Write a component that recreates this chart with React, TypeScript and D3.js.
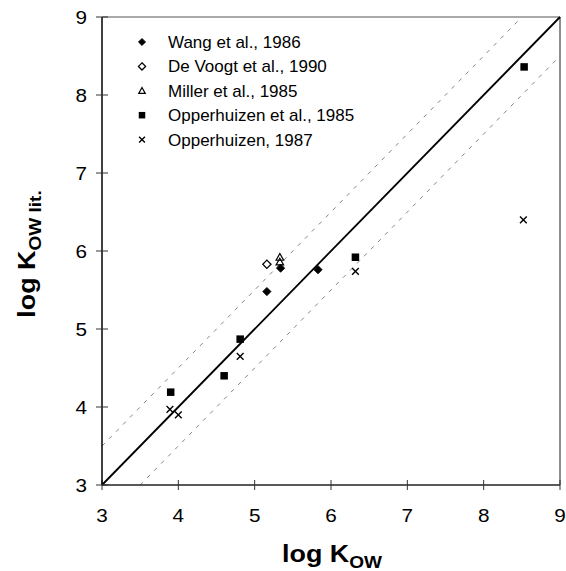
import React, { useEffect, useRef } from "react";
import * as d3 from "d3";

// values
const wangX = [5.16, 5.34, 5.83];
const wangY = [5.48, 5.78, 5.76];
const deVoogtX = [5.16];
const deVoogtY = [5.83];
const millerX = [5.33, 5.33];
const millerY = [5.92, 5.86];
const opp85X = [3.9, 4.6, 4.81, 6.32, 8.53];
const opp85Y = [4.19, 4.4, 4.87, 5.92, 8.36];
const opp87X = [3.89, 4.0, 4.81, 6.32, 8.52];
const opp87Y = [3.97, 3.9, 4.65, 5.74, 6.4];

const seriesNames = [
  "Wang et al., 1986",
  "De Voogt et al., 1990",
  "Miller et al., 1985",
  "Opperhuizen et al., 1985",
  "Opperhuizen, 1987",
];
const seriesKinds = ["diamondFilled", "diamondOpen", "triangleOpen", "square", "cross"];
const tickValues = [3, 4, 5, 6, 7, 8, 9];
const bandOffset = 0.5;

const FONT = "'Liberation Sans', Arial, sans-serif";

const App: React.FC = () => {
  const ref = useRef<SVGSVGElement>(null);

  useEffect(() => {
    drawChart();
  }, []);

  const drawChart = () => {
    const width = 566;
    const height = 571;
    const svg = d3.select(ref.current);
    svg.selectAll("*").remove();
    svg.attr("width", width).attr("height", height);

    const x = d3.scaleLinear().domain([3, 9]).range([102, 560]);
    const y = d3.scaleLinear().domain([3, 9]).range([485, 17]);

    const g = svg.append("g");

    // frame: top + right thin grey
    g.append("line")
      .attr("x1", x(3)).attr("x2", x(9)).attr("y1", y(9)).attr("y2", y(9))
      .attr("stroke", "#555").attr("stroke-width", 1);
    g.append("line")
      .attr("x1", x(9)).attr("x2", x(9)).attr("y1", y(9)).attr("y2", y(3))
      .attr("stroke", "#444").attr("stroke-width", 1.2);

    // dashed +/- 0.5 lines
    const upper = [[3, 3 + bandOffset], [9 - bandOffset, 9]];
    const lower = [[3 + bandOffset, 3], [9, 9 - bandOffset]];
    [upper, lower].forEach((pts) => {
      g.append("line")
        .attr("x1", x(pts[0][0])).attr("y1", y(pts[0][1]))
        .attr("x2", x(pts[1][0])).attr("y2", y(pts[1][1]))
        .attr("stroke", "#777")
        .attr("stroke-width", 0.9)
        .attr("stroke-dasharray", "4 6");
    });

    // 1:1 line
    g.append("line")
      .attr("x1", x(3)).attr("y1", y(3)).attr("x2", x(9)).attr("y2", y(9))
      .attr("stroke", "#000").attr("stroke-width", 1.8);

    // axes
    const xAxis = g.append("g").attr("transform", `translate(0,${y(3)})`);
    xAxis.append("line").attr("x1", x(3)).attr("x2", x(9))
      .attr("stroke", "#222").attr("stroke-width", 1.3);
    tickValues.forEach((t) => {
      xAxis.append("line")
        .attr("x1", x(t)).attr("x2", x(t)).attr("y1", -5).attr("y2", 5)
        .attr("stroke", "#333").attr("stroke-width", 1);
      xAxis.append("text")
        .attr("transform", `translate(${x(t)},37) scale(1.15,1)`)
        .attr("text-anchor", "middle")
        .attr("font-family", FONT)
        .attr("font-size", 18)
        .text(t);
    });

    const yAxis = g.append("g").attr("transform", `translate(${x(3)},0)`);
    yAxis.append("line").attr("y1", y(3)).attr("y2", y(9))
      .attr("stroke", "#000").attr("stroke-width", 1.5);
    tickValues.forEach((t) => {
      yAxis.append("line")
        .attr("x1", -6).attr("x2", 6).attr("y1", y(t)).attr("y2", y(t))
        .attr("stroke", "#333").attr("stroke-width", 1);
      yAxis.append("text")
        .attr("transform", `translate(-15,${y(t) + 6.5}) scale(1.15,1)`)
        .attr("text-anchor", "end")
        .attr("font-family", FONT)
        .attr("font-size", 18)
        .text(t);
    });

    // axis titles
    const xt = svg.append("text")
      .attr("transform", `translate(332,562) scale(1.12,1)`)
      .attr("text-anchor", "middle")
      .attr("font-family", FONT)
      .attr("font-weight", "bold")
      .attr("font-size", 24);
    xt.append("tspan").text("log K");
    xt.append("tspan").attr("font-size", 17).attr("dy", 6).text("OW");

    const yt = svg.append("text")
      .attr("transform", `translate(35,254) rotate(-90) scale(1.12,1)`)
      .attr("text-anchor", "middle")
      .attr("font-family", FONT)
      .attr("font-weight", "bold")
      .attr("font-size", 24);
    yt.append("tspan").text("log K");
    yt.append("tspan").attr("font-size", 17).attr("dy", 6).text("OW lit.");

    // markers
    const drawMarker = (
      sel: d3.Selection<SVGGElement, unknown, null, undefined>,
      kind: string,
      cx: number,
      cy: number,
      s: number
    ) => {
      if (kind === "diamondFilled" || kind === "diamondOpen") {
        const r = s * 0.55;
        sel.append("path")
          .attr("d", `M${cx},${cy - r}L${cx + r},${cy}L${cx},${cy + r}L${cx - r},${cy}Z`)
          .attr("fill", kind === "diamondFilled" ? "#000" : "#fff")
          .attr("stroke", "#000")
          .attr("stroke-width", kind === "diamondFilled" ? 0.8 : 1.3);
      } else if (kind === "triangleOpen") {
        const r = s * 0.5;
        sel.append("path")
          .attr("d", `M${cx},${cy - r}L${cx + r},${cy + r * 0.8}L${cx - r},${cy + r * 0.8}Z`)
          .attr("fill", "none")
          .attr("stroke", "#000")
          .attr("stroke-width", 1.2);
      } else if (kind === "square") {
        const r = s * 0.5;
        sel.append("rect")
          .attr("x", cx - r).attr("y", cy - r)
          .attr("width", 2 * r).attr("height", 2 * r)
          .attr("fill", "#000");
      } else {
        const r = s * 0.45;
        sel.append("path")
          .attr("d", `M${cx - r},${cy - r}L${cx + r},${cy + r}M${cx - r},${cy + r}L${cx + r},${cy - r}`)
          .attr("stroke", "#000")
          .attr("stroke-width", 1.4);
      }
    };

    const seriesXs = [wangX, deVoogtX, millerX, opp85X, opp87X];
    const seriesYs = [wangY, deVoogtY, millerY, opp85Y, opp87Y];
    const pts = svg.append("g");
    seriesXs.forEach((xs, i) => {
      xs.forEach((xv, j) => {
        drawMarker(pts, seriesKinds[i], x(xv), y(seriesYs[i][j]), 7.5);
      });
    });

    // legend
    const legend = svg.append("g");
    seriesNames.forEach((label, i) => {
      const ly = 42 + i * 24.4;
      drawMarker(legend, seriesKinds[i], 142, ly, 6.5);
      legend.append("text")
        .attr("x", 168)
        .attr("y", ly + 6)
        .attr("font-family", FONT)
        .attr("font-size", 17)
        .text(label);
    });
  };

  return (
    <svg
      ref={ref}
      style={{ position: "absolute", left: 0, top: 0, background: "#fff" }}
    ></svg>
  );
};

export default App;
